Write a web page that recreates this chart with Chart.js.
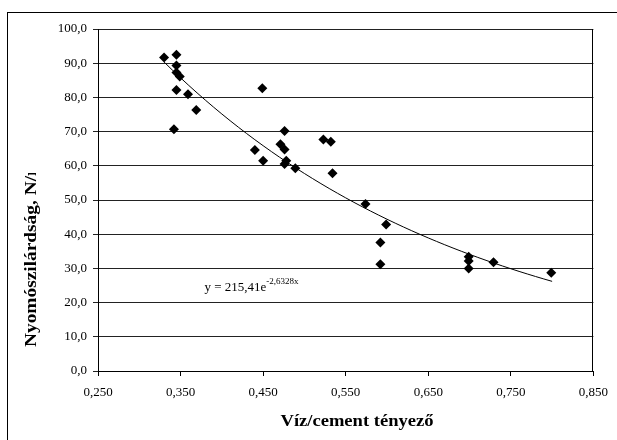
<!DOCTYPE html>
<html>
<head>
<meta charset="utf-8">
<script src="https://cdn.jsdelivr.net/npm/chart.js"></script>
<style>
html, body { margin: 0; padding: 0; background: #fff; }
#wrap { width: 617px; height: 440px; position: relative; }
</style>
</head>
<body>
<div id="wrap"><canvas id="myChart"></canvas></div>
<script>
// measured points (víz/cement tényező -> nyomószilárdság)
var wcRatio = [0.330, 0.345, 0.345, 0.345, 0.349, 0.345, 0.359, 0.369, 0.342,
               0.449, 0.440, 0.450, 0.471, 0.476, 0.476, 0.478, 0.476, 0.489,
               0.523, 0.532, 0.534, 0.574, 0.599, 0.592, 0.592,
               0.699, 0.699, 0.699, 0.729, 0.799];
var strength = [91.7, 92.5, 89.3, 87.3, 86.1, 82.2, 80.9, 76.3, 70.7,
                82.7, 64.6, 61.5, 66.3, 70.2, 64.8, 61.5, 60.5, 59.3,
                67.7, 67.0, 57.8, 48.8, 42.8, 37.6, 31.2,
                33.4, 32.2, 30.0, 31.8, 28.7];

var xTicks = [0.25, 0.35, 0.45, 0.55, 0.65, 0.75, 0.85];
var yTicks = [0, 10, 20, 30, 40, 50, 60, 70, 80, 90, 100];

// exponential trendline as printed on the chart: y = 215,41e^(-2,6328x)
var trendA = 215.41;
var trendB = -2.6328;
var trendFrom = 0.33;
var trendTo = 0.80;

var xTitle = "Víz/cement tényező";
var yTitle = "Nyomószilárdság, N/mm²";
var eqMain = "y = 215,41e";
var eqExp = "-2,6328x";

var points = wcRatio.map(function (x, i) { return {x: x, y: strength[i]}; });

var trend = [];
for (var k = 0; k <= Math.round((trendTo - trendFrom) / 0.01); k++) {
  var tx = trendFrom + k * 0.01;
  trend.push({x: tx, y: trendA * Math.exp(trendB * tx)});
}

var extras = {
  id: 'extras',
  beforeDraw: function (chart) {
    var ctx = chart.ctx;
    ctx.save();
    ctx.fillStyle = '#fff';
    ctx.fillRect(0, 0, chart.width, chart.height);
    ctx.strokeStyle = '#000';
    ctx.lineWidth = 1;
    ctx.strokeRect(7.5, 12.5, 1000, 1000);
    ctx.restore();
  },
  afterDraw: function (chart) {
    var ctx = chart.ctx;
    var a = chart.chartArea;
    var xs = chart.scales.x, ys = chart.scales.y;
    ctx.save();
    // right frame of plot area
    ctx.strokeStyle = '#000';
    ctx.lineWidth = 1;
    ctx.beginPath();
    ctx.moveTo(Math.round(a.right) - 0.5, a.top);
    ctx.lineTo(Math.round(a.right) - 0.5, a.bottom);
    ctx.stroke();

    ctx.fillStyle = '#000';
    // x title
    ctx.save();
    ctx.font = 'bold 16px "Liberation Serif"';
    ctx.textAlign = 'center';
    ctx.textBaseline = 'alphabetic';
    ctx.translate(357, 426);
    ctx.scale(1.16, 1);
    ctx.fillText(xTitle, 0, 0);
    ctx.restore();

    // y title (clipped like the original)
    ctx.save();
    ctx.beginPath();
    ctx.rect(0, 173, 90, 267);
    ctx.clip();
    ctx.font = 'bold 16px "Liberation Serif"';
    ctx.textAlign = 'left';
    ctx.textBaseline = 'middle';
    ctx.translate(32, 347);
    ctx.rotate(-Math.PI / 2);
    ctx.scale(1.21, 1);
    ctx.fillText(yTitle, 0, 0);
    ctx.restore();

    // trendline equation
    var ex = xs.getPixelForValue(0.379);
    var ey = ys.getPixelForValue(23.4);
    ctx.font = '13px "Liberation Serif"';
    ctx.textAlign = 'left';
    ctx.textBaseline = 'alphabetic';
    ctx.fillText(eqMain, ex, ey);
    var w = ctx.measureText(eqMain).width;
    ctx.font = '9px "Liberation Serif"';
    ctx.fillText(eqExp, ex + w, ey - 7);
    ctx.restore();
  }
};

var tickFont = {family: 'Liberation Serif', size: 13};

new Chart("myChart", {
  type: "scatter",
  data: {
    datasets: [{
      data: points,
      pointStyle: 'rectRot',
      pointRadius: 5,
      backgroundColor: '#000',
      borderColor: '#000',
      borderWidth: 0
    }, {
      data: trend,
      showLine: true,
      pointRadius: 0,
      borderColor: '#000',
      borderWidth: 1,
      tension: 0
    }]
  },
  options: {
    responsive: true,
    maintainAspectRatio: false,
    animation: false,
    events: [],
    layout: {padding: {top: 29, right: 18, bottom: 0, left: 0}},
    plugins: {legend: {display: false}, tooltip: {enabled: false}},
    scales: {
      x: {
        type: 'linear',
        min: 0.25,
        max: 0.85,
        afterBuildTicks: function (axis) { axis.ticks = xTicks.map(function (v) { return {value: v}; }); },
        afterFit: function (axis) { axis.height = 69; },
        grid: {drawOnChartArea: false, drawTicks: true, tickLength: 5, color: '#000'},
        border: {display: true, color: '#000', width: 1},
        ticks: {
          font: tickFont, color: '#000', padding: 9, maxRotation: 0,
          callback: function (v) { return v.toFixed(3).replace('.', ','); }
        }
      },
      y: {
        min: 0,
        max: 100,
        afterBuildTicks: function (axis) { axis.ticks = yTicks.map(function (v) { return {value: v}; }); },
        afterFit: function (axis) { axis.width = 98; },
        grid: {drawOnChartArea: true, drawTicks: true, tickLength: 5, color: '#222'},
        border: {display: true, color: '#000', width: 1},
        ticks: {
          font: tickFont, color: '#000', padding: 6,
          callback: function (v) { return v.toFixed(1).replace('.', ','); }
        }
      }
    }
  },
  plugins: [extras]
});
</script>
</body>
</html>
